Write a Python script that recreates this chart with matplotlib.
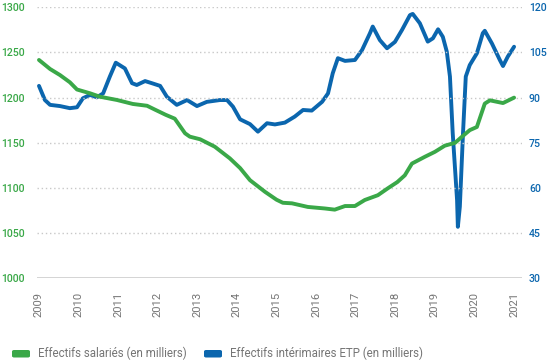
import matplotlib
matplotlib.use("Agg")
import matplotlib.pyplot as plt
from matplotlib.patches import FancyBboxPatch

plt.rcParams['font.family'] = ['Roboto', 'DejaVu Sans']

# --- data -------------------------------------------------------------
years_ticks = list(range(2009, 2022))

salaries_x = [2009.00, 2009.28, 2009.53, 2009.78, 2009.96, 2010.29, 2010.54, 2010.97,
              2011.37, 2011.73, 2011.93, 2012.20, 2012.43, 2012.69, 2012.81, 2013.07,
              2013.44, 2013.82, 2014.08, 2014.33, 2014.71, 2015.00, 2015.16, 2015.39,
              2015.79, 2016.22, 2016.47, 2016.73, 2016.98, 2017.23, 2017.56, 2017.81,
              2018.05, 2018.24, 2018.42, 2018.75, 2019.00, 2019.25, 2019.51, 2019.68,
              2019.88, 2020.06, 2020.26, 2020.39, 2020.72, 2021.00]
salaries_y = [1241.7, 1231.7, 1225.0, 1217.0, 1209.0, 1204.8, 1201.0, 1197.4,
              1193.0, 1191.0, 1186.7, 1181.0, 1176.7, 1160.5, 1156.8, 1153.9,
              1145.7, 1132.8, 1122.0, 1108.6, 1095.7, 1087.0, 1083.6, 1083.0,
              1079.0, 1077.3, 1076.0, 1080.0, 1080.0, 1086.7, 1092.0, 1099.6,
              1106.5, 1114.0, 1127.0, 1134.6, 1140.0, 1146.8, 1150.0, 1156.6,
              1164.0, 1167.5, 1193.4, 1197.0, 1194.0, 1200.0]

interim_x = [2009.00, 2009.15, 2009.28, 2009.53, 2009.78, 2009.96, 2010.11, 2010.29,
             2010.46, 2010.62, 2010.79, 2010.94, 2011.17, 2011.35, 2011.47, 2011.68,
             2011.85, 2012.06, 2012.23, 2012.48, 2012.74, 2012.99, 2013.24, 2013.57,
             2013.75, 2013.90, 2014.08, 2014.33, 2014.53, 2014.76, 2014.96, 2015.21,
             2015.46, 2015.67, 2015.89, 2016.15, 2016.30, 2016.42, 2016.55, 2016.73,
             2016.98, 2017.16, 2017.36, 2017.43, 2017.61, 2017.79, 2017.99, 2018.17,
             2018.37, 2018.44, 2018.62, 2018.82, 2018.95, 2019.08, 2019.20, 2019.30,
             2019.38, 2019.45, 2019.56, 2019.58, 2019.63, 2019.71, 2019.78, 2019.88,
             2020.06, 2020.21, 2020.26, 2020.44, 2020.64, 2020.72, 2020.84, 2021.00]
interim_y = [93.9, 89.2, 87.6, 87.2, 86.5, 86.8, 89.8, 90.9,
             90.1, 91.4, 97.0, 101.6, 99.7, 94.8, 94.2, 95.5,
             94.8, 93.9, 90.3, 87.6, 89.2, 87.2, 88.6, 89.2,
             89.2, 87.0, 82.8, 81.2, 78.7, 81.5, 81.1, 81.7,
             83.7, 85.9, 85.7, 88.6, 91.4, 98.1, 103.1, 102.2,
             102.5, 105.8, 111.4, 113.6, 109.1, 106.4, 108.5, 112.5,
             117.4, 117.8, 114.7, 108.6, 109.7, 112.7, 110.2, 105.3,
             97.0, 78.2, 56.0, 47.1, 53.8, 78.2, 97.0, 100.8,
             104.7, 111.4, 112.2, 108.0, 102.5, 100.5, 103.6, 106.9]

left_ticks = [1000, 1050, 1100, 1150, 1200, 1250, 1300]
right_ticks = [30, 45, 60, 75, 90, 105, 120]

label_salaries = "Effectifs salariés (en milliers)"
label_interim = "Effectifs intérimaires ETP (en milliers)"

GREEN = '#3aa848'
BLUE = '#0b66ae'
GRID = '#c8c8c8'
GRAY = '#757575'

# --- figure -----------------------------------------------------------
W, H = 550, 363
fig = plt.figure(figsize=(5.5, 3.63), dpi=100)
renderer = fig.canvas.get_renderer()


def fit_size(text, target_px, base=10, **kw):
    t = fig.text(0, 0, text, fontsize=base, **kw)
    w = t.get_window_extent(renderer).width
    t.remove()
    return base * target_px / w


leg_size = 1.05 * (fit_size(label_salaries, 144) + fit_size(label_interim, 184)) / 2
ytick_size = 7.6
xtick_size = fit_size("2009", 25)

ax = fig.add_axes([37 / W, 1 - 278.3 / H, (522 - 37) / W, (278.3 - 7.3) / H])
ax2 = ax.twinx()

ax.set_xlim(2008.95, 2021.2)
ax.set_ylim(1000, 1300)
ax2.set_ylim(30, 120)

for t in left_ticks[1:]:
    ax.axhline(t, color=GRID, lw=1.0, ls=(0, (1, 2)), zorder=0)
ax.axhline(1000, color=GRID, lw=1.8, zorder=0)

ax2.plot(interim_x, interim_y, color=BLUE, lw=2.8, solid_joinstyle='round',
         solid_capstyle='round', zorder=3)
ax.plot(salaries_x, salaries_y, color=GREEN, lw=2.8, solid_joinstyle='round',
        solid_capstyle='round', zorder=4)
ax.set_zorder(ax2.get_zorder() + 1)
ax.patch.set_visible(False)

for a in (ax, ax2):
    for s in a.spines.values():
        s.set_visible(False)

ax.set_yticks(left_ticks)
ax.set_yticklabels([str(t) for t in left_ticks], color=GREEN,
                   fontsize=ytick_size, fontweight='medium')
ax.tick_params(axis='y', length=0, pad=9)
ax2.set_yticks(right_ticks)
ax2.set_yticklabels([str(t) for t in right_ticks], color=BLUE,
                    fontsize=ytick_size, fontweight='medium')
ax2.tick_params(axis='y', length=0, pad=5)

ax.set_xticks(years_ticks)
ax.set_xticklabels([str(y) for y in years_ticks], rotation=90, color=GRAY,
                   fontsize=xtick_size)
ax.tick_params(axis='x', length=0, pad=10)

# legend drawn as figure-level patches + text
legend_items = [(label_salaries, GREEN, 12), (label_interim, BLUE, 204)]
for lab, col, x0 in legend_items:
    p = FancyBboxPatch((x0 / W, 1 - 357.5 / H), 18 / W, 7.5 / H,
                       boxstyle="round,pad=0,rounding_size=0.004",
                       transform=fig.transFigure, facecolor=col, edgecolor='none')
    fig.add_artist(p)
    fig.text((x0 + 26) / W, 1 - 353.5 / H, lab, color=GRAY, va='center',
             ha='left', fontsize=leg_size)

fig.savefig('out.png', dpi=100)
